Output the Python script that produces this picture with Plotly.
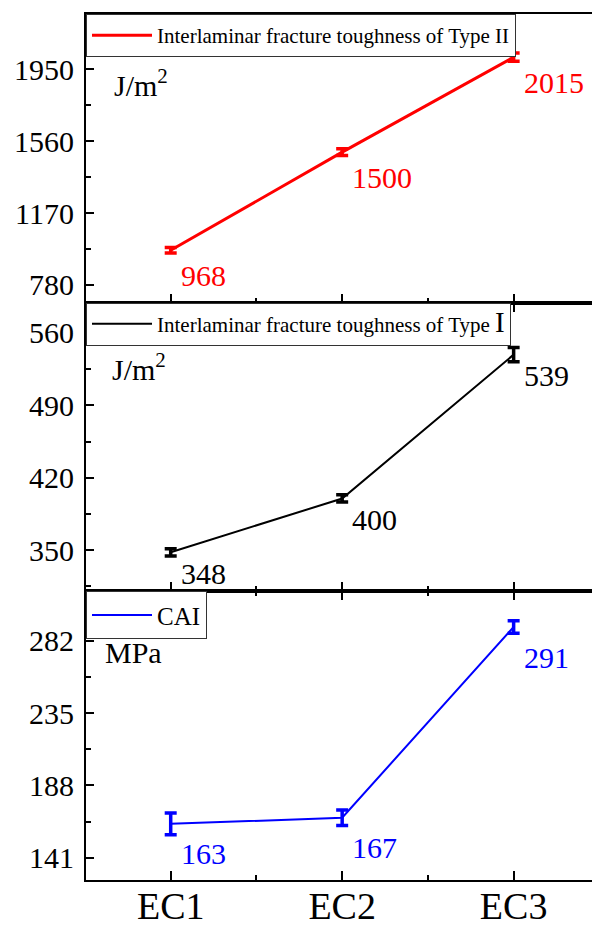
import plotly.graph_objects as go

categories = ["EC1", "EC2", "EC3"]
x_pos = [0, 1, 2]

g2_values = [968, 1500, 2015]
g2_err = [15, 18, 22]
g1_values = [348, 400, 539]
g1_err = [3.5, 3.5, 7]
cai_values = [163, 167, 291]
cai_err = [7, 5, 4]

g2_ticks = [780, 1170, 1560, 1950]
g1_ticks = [350, 420, 490, 560]
cai_ticks = [141, 188, 235, 282]

FONT = "Liberation Serif, Times New Roman, serif"

fig = go.Figure()

panels = [
    dict(vals=g2_values, err=g2_err, color="#ff0000", name="Interlaminar fracture toughness of Type II",
         xa="x", ya="y", legend="legend", ticks=g2_ticks, rng=[684, 2249], unit="J/m<sup>2</sup>",
         dom=[2/3, 1.0], yshift=-25, width=3),
    dict(vals=g1_values, err=g1_err, color="#000000",
         name="Interlaminar fracture toughness of Type <span style='font-size:29px'>I</span>",
         xa="x2", ya="y2", legend="legend2", ticks=g1_ticks, rng=[310.3, 589.2], unit="J/m<sup>2</sup>",
         dom=[1/3, 2/3], yshift=-21, width=2),
    dict(vals=cai_values, err=cai_err, color="#0000ff", name="CAI",
         xa="x3", ya="y3", legend="legend3", ticks=cai_ticks, rng=[126.5, 314.2], unit="MPa",
         dom=[0.0, 1/3], yshift=-30, width=2),
]

for p in panels:
    fig.add_trace(go.Scatter(
        x=x_pos, y=p["vals"], mode="lines", name=p["name"],
        line=dict(color=p["color"], width=p["width"]),
        error_y=dict(type="data", array=p["err"], visible=True, color=p["color"], thickness=3.5, width=6),
        xaxis=p["xa"], yaxis=p["ya"], legend=p["legend"], showlegend=True,
    ))
    for xi, v in zip(x_pos, p["vals"]):
        fig.add_annotation(x=xi, y=v, xref=p["xa"], yref=p["ya"], text=str(v), showarrow=False,
                           xanchor="left", yanchor="middle", xshift=8, yshift=p["yshift"],
                           font=dict(family=FONT, size=30, color=p["color"]))

layout = dict(
    width=592, height=930,
    margin=dict(l=86, r=0, t=14, b=50),
    plot_bgcolor="white", paper_bgcolor="white",
    font=dict(family=FONT, size=30, color="black"),
)

for i, p in enumerate(panels):
    suffix = "" if i == 0 else str(i + 1)
    step = p["ticks"][1] - p["ticks"][0]
    layout["xaxis" + suffix] = dict(
        domain=[0, 1], anchor="y" + suffix, range=[-0.494, 2.457],
        tickmode="array", tickvals=x_pos, ticktext=categories,
        showticklabels=(i == 2), automargin=False,
        ticks="inside", ticklen=9, tickwidth=1.5, tickcolor="black",
        showline=True, linecolor="black", linewidth=2, mirror="ticks",
        showgrid=False, zeroline=False,
        minor=dict(tickmode="array", tickvals=[0.5, 1.5], ticks="inside", ticklen=5, tickwidth=1.5, tickcolor="black"),
        tickfont=dict(family=FONT, size=38, color="black"),
        ticklabelstandoff=-9,
        **({} if i == 0 else dict(matches="x")),
    )
    layout["yaxis" + suffix] = dict(
        domain=p["dom"], anchor="x" + suffix, range=p["rng"], automargin=False,
        tickmode="linear", tick0=p["ticks"][0], dtick=step,
        ticks="inside", ticklen=8, tickwidth=1.5, tickcolor="black",
        showline=True, linecolor="black", linewidth=2, mirror=False,
        showgrid=False, zeroline=False,
        minor=dict(tickmode="linear", tick0=p["ticks"][0], dtick=step / 2, ticks="inside", ticklen=5, tickwidth=1.5, tickcolor="black"),
        tickfont=dict(family=FONT, size=30, color="black"),
        ticklabelstandoff=4,
    )
    layout["legend" + suffix] = dict(
        x=0, y=p["dom"][1], xanchor="left", yanchor="top", xref="paper", yref="paper",
        bgcolor="white", bordercolor="#333333", borderwidth=1,
        font=dict(family=FONT, size=(25 if i == 2 else 21), color="black"),
        itemwidth=60, tracegroupgap=0,
    )

fig.update_layout(**layout)

unit_pos = [(112, 0.76), (110, 0.778), (103, 0.789)]
for i, p in enumerate(panels):
    suffix = "" if i == 0 else str(i + 1)
    fig.add_annotation(x=(unit_pos[i][0] - 86) / 506, y=unit_pos[i][1], xref="x" + suffix + " domain",
                       yref="y" + suffix + " domain", text=p["unit"], showarrow=False,
                       xanchor="left", yanchor="middle", font=dict(family=FONT, size=30, color="black"))

fig.write_html("out.html", config={"displayModeBar": False},
               post_script="document.body.style.margin='0';document.body.style.overflow='hidden';")
